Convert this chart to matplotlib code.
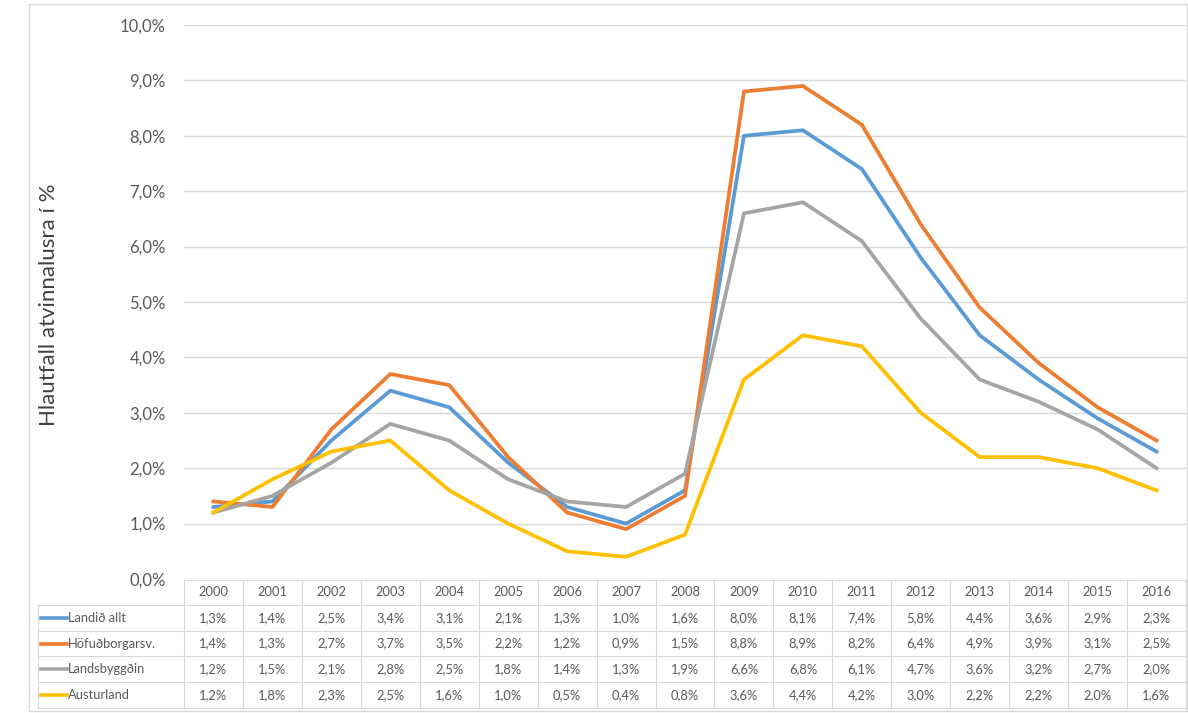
import matplotlib.pyplot as plt
import numpy as np

# gögn lesin af myndinni (hlutfall atvinnuleysis, %)
years = [2000, 2001, 2002, 2003, 2004, 2005, 2006, 2007, 2008,
         2009, 2010, 2011, 2012, 2013, 2014, 2015, 2016]
landid_allt = [1.3, 1.4, 2.5, 3.4, 3.1, 2.1, 1.3, 1.0, 1.6, 8.0, 8.1, 7.4, 5.8, 4.4, 3.6, 2.9, 2.3]
hofudborgarsv = [1.4, 1.3, 2.7, 3.7, 3.5, 2.2, 1.2, 0.9, 1.5, 8.8, 8.9, 8.2, 6.4, 4.9, 3.9, 3.1, 2.5]
landsbyggdin = [1.2, 1.5, 2.1, 2.8, 2.5, 1.8, 1.4, 1.3, 1.9, 6.6, 6.8, 6.1, 4.7, 3.6, 3.2, 2.7, 2.0]
austurland = [1.2, 1.8, 2.3, 2.5, 1.6, 1.0, 0.5, 0.4, 0.8, 3.6, 4.4, 4.2, 3.0, 2.2, 2.2, 2.0, 1.6]

names = ['Landið allt', 'Höfuðborgarsv.', 'Landsbyggðin', 'Austurland']
series = [landid_allt, hofudborgarsv, landsbyggdin, austurland]
colors = ['#5B9BD5', '#ED7D31', '#A5A5A5', '#FFC000']

plt.rcParams['font.family'] = ['Lato', 'DejaVu Sans']

W, H = 1188, 713
fig = plt.figure(figsize=(W/100, H/100), dpi=100)

def box(l, t, r, b):
    return [l/W, 1-b/H, (r-l)/W, (b-t)/H]

# ramminn utan um
fig.patches.append(plt.Rectangle((29/W, 1-711/H), 1158/W, 707/H, transform=fig.transFigure,
                                 fill=False, edgecolor='#D9D9D9', lw=1))

x0, x1 = 184, 1186
ax = fig.add_axes(box(x0, 25, x1, 579))
x = np.arange(len(years))
for vals, c in zip(series, colors):
    ax.plot(x, np.array(vals)/100, color=c, lw=2.7)
ax.set_xlim(-0.5, len(years)-0.5)
ax.set_ylim(0, 0.10)
ax.set_yticks(np.arange(0, 0.1001, 0.01))
ax.set_yticklabels([f"{v:.1f}%".replace('.', ',') for v in np.arange(0, 10.01, 1)])
ax.set_xticks([])
ax.grid(axis='y', color='#D9D9D9', lw=1)
ax.set_axisbelow(True)
for s in ax.spines.values():
    s.set_visible(False)
ax.tick_params(axis='y', length=0, labelsize=12, labelcolor='#595959', pad=13)

fig.text(49/W, 1-305/H, 'Hlautfall atvinnalusra í %', rotation=90, fontsize=16,
         color='#404040', ha='center', va='center')

# gagnatafla
tax = fig.add_axes(box(x0, 580, x1, 708))
n = len(years)
col_w = (x1-x0)/n
lab_left = -0.5 - (x0-38)/col_w
head = 0.97
tax.set_xlim(-0.5, n-0.5)
tax.set_ylim(4, -head)
tax.axis('off')
gc = '#D9D9D9'
for k in range(n+1):
    tax.plot([k-0.5, k-0.5], [-head, 4], color=gc, lw=0.8, clip_on=False)
tax.plot([lab_left, lab_left], [0, 4], color=gc, lw=0.8, clip_on=False)
tax.plot([-0.5, n-0.5], [-head, -head], color=gc, lw=0.8, clip_on=False)
for r in range(5):
    tax.plot([lab_left, n-0.5], [r, r], color=gc, lw=0.8, clip_on=False)
tc = '#595959'
fs = 9.3
for i, yr in enumerate(years):
    tax.text(i, -head/2, str(yr), ha='center', va='center', fontsize=fs, color=tc)
for r, (nm, vals, c) in enumerate(zip(names, series, colors)):
    tax.plot([lab_left+0.05, lab_left+0.5], [r+0.5, r+0.5], color=c, lw=2.6, clip_on=False)
    tax.text(lab_left+0.51, r+0.5, nm, ha='left', va='center', fontsize=fs, color=tc, clip_on=False)
    for i, v in enumerate(vals):
        tax.text(i, r+0.5, f"{v:.1f}%".replace('.', ','), ha='center', va='center',
                 fontsize=fs, color=tc)

fig.savefig('out.png', dpi=100)
